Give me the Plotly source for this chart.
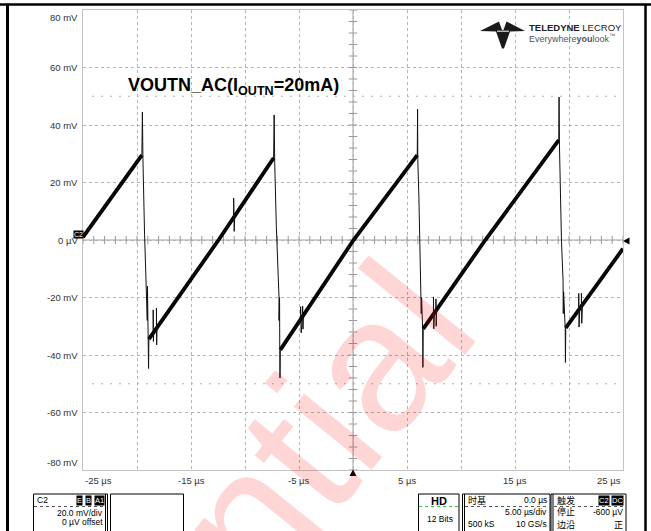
import numpy as np
import plotly.graph_objects as go

# ---------------- data (time in µs, voltage in mV) ----------------
wave_t = [-25.0, -19.55, -19.5, -19.45, -19.3, -19.05, -19.03, -19.0, -18.95, -18.93, -18.9,
          -18.5, -18.5, -18.48, -18.45, -18.2, -18.2, -18.18, -18.15,
          -11.05, -11.05, -11.0, -10.95,
          -7.35, -7.3, -7.25, -7.1, -6.85, -6.85, -6.8, -6.78, -6.76, -6.73,
          -4.85, -4.85, -4.8, -4.7, -4.66, -4.63, -4.6,
          0.05, 5.95, 5.98, 6.0, 6.1, 6.25, 6.3, 6.32, 6.35, 6.45, 6.47, 6.5,
          7.45, 7.45, 7.48, 7.55, 7.68, 7.68, 7.7, 7.75,
          12.25, 19.05, 19.08, 19.12, 19.3, 19.45, 19.47, 19.5, 19.65, 19.67, 19.7,
          20.9, 20.9, 20.93, 21.0, 21.15, 21.15, 21.18, 21.25, 25.0]
wave_v = [1.0, 29.5, 44.5, 28.0, 2.0, -28.0, -16.0, -30.0, -35.0, -44.7, -34.5,
          -32.5, -24.3, -35.3, -32.2, -30.8, -23.7, -36.5, -30.5,
          7.8, 14.6, 3.0, 8.3,
          28.5, 43.5, 27.0, 5.0, -20.0, -28.0, -20.0, -38.5, -48.0, -38.2,
          -28.0, -23.2, -32.3, -27.5, -23.0, -31.0, -26.8,
          0.0, 29.5, 45.5, 28.0, 15.0, -10.0, -15.7, -25.6, -20.0, -31.0, -44.3, -30.9,
          -26.0, -19.8, -30.9, -25.5, -24.8, -20.5, -30.0, -24.5,
          0.0, 34.7, 49.7, 32.0, 0.0, -14.0, -25.6, -18.0, -30.9, -42.6, -30.6,
          -24.2, -18.6, -30.3, -23.7, -22.8, -18.5, -29.0, -22.3, -3.0]

# thick (noisy) ramp bands
ramp_t = [-25.0, -19.55, None, -18.9, -12.45, -7.35, None, -6.73, 0.05, 5.95, None,
          6.5, 12.25, 19.05, None, 19.7, 25.0]
ramp_v = [1.0, 29.5, None, -34.5, 0.0, 28.5, None, -38.2, 0.0, 29.5, None,
          -30.9, 0.0, 34.7, None, -30.6, -3.0]

x_tick_vals = [-25, -15, -5, 5, 15, 25]
x_tick_text = ["-25 µs", "-15 µs", "-5 µs", "5 µs", "15 µs", "25 µs"]
y_tick_vals = [80, 60, 40, 20, 0, -20, -40, -60, -80]
y_tick_text = ["80 mV", "60 mV", "40 mV", "20 mV", "0 µV", "-20 mV", "-40 mV", "-60 mV", "-80 mV"]
cursor_levels = [50, -50]

title_text = "<b>VOUTN_AC(I<sub>OUTN</sub>=20mA)</b>"
watermark = "Confidential"

# ---------------- layout helpers (pixel -> paper) ----------------
W, H = 651, 531
L, R, T, B = 83, 623, 10, 470
def px(x):
    return (x - L) / (R - L)
def py(y):
    return (B - y) / (B - T)

FONT = "Liberation Sans, Arial, sans-serif"
CJK = "Noto Sans CJK SC, Liberation Sans, sans-serif"

fig = go.Figure()

# crosshair minor ticks
minor_x = np.arange(-25, 25.01, 1.0)
minor_y = np.arange(-80, 80.01, 4.0)
fig.add_trace(go.Scatter(x=minor_x, y=np.zeros_like(minor_x), mode="markers",
                         marker=dict(symbol="line-ns", size=6, line=dict(width=1, color="#9a9a9a")),
                         hoverinfo="skip", showlegend=False))
fig.add_trace(go.Scatter(x=np.zeros_like(minor_y), y=minor_y, mode="markers",
                         marker=dict(symbol="line-ew", size=6, line=dict(width=1, color="#9a9a9a")),
                         hoverinfo="skip", showlegend=False))

# waveform
fig.add_trace(go.Scatter(x=ramp_t, y=ramp_v, mode="lines", connectgaps=False,
                         line=dict(color="#000000", width=3.8), hoverinfo="skip", showlegend=False))
fig.add_trace(go.Scatter(x=wave_t, y=wave_v, mode="lines",
                         line=dict(color="#111111", width=1), hoverinfo="skip", showlegend=False))

shapes = []
# center crosshair
shapes.append(dict(type="line", xref="x", yref="paper", x0=0, x1=0, y0=0, y1=1,
                   line=dict(color="#a0a0a0", width=1), layer="below"))
shapes.append(dict(type="line", xref="paper", yref="y", x0=0, x1=1, y0=0, y1=0,
                   line=dict(color="#a0a0a0", width=1), layer="below"))
# cursor lines at +-50 mV
for lv in cursor_levels:
    shapes.append(dict(type="line", xref="paper", yref="y", x0=px(92), x1=px(618), y0=lv, y1=lv,
                       line=dict(color="#b0b0b0", width=1, dash="2px,7px"), layer="below"))

# page border
shapes.append(dict(type="line", xref="paper", yref="paper", x0=px(0), x1=px(651), y0=py(4.5), y1=py(4.5),
                   line=dict(color="black", width=2.5)))
shapes.append(dict(type="line", xref="paper", yref="paper", x0=px(7.5), x1=px(7.5), y0=py(4), y1=py(540),
                   line=dict(color="black", width=3)))
shapes.append(dict(type="line", xref="paper", yref="paper", x0=px(645.5), x1=px(645.5), y0=py(4), y1=py(540),
                   line=dict(color="black", width=2.5)))

# trigger markers
def path(pts):
    s = "M " + " L ".join(f"{px(a):.5f},{py(b):.5f}" for a, b in pts) + " Z"
    return s
shapes.append(dict(type="path", xref="paper", yref="paper",
                   path=path([(623, 241), (629.5, 237.5), (629.5, 244.5)]),
                   fillcolor="black", line=dict(width=0)))
shapes.append(dict(type="path", xref="paper", yref="paper",
                   path=path([(353, 469.5), (349.5, 476), (356.5, 476)]),
                   fillcolor="black", line=dict(width=0)))

# logo mark
shapes.append(dict(type="path", xref="paper", yref="paper",
                   path=path([(480, 31), (499, 21.5), (502, 30), (503.5, 30), (506.5, 21.5), (525, 31),
                              (510, 31.5), (504, 48.5), (502, 48.5), (496, 31.5)]),
                   fillcolor="#1a1a1a", line=dict(width=0)))
shapes.append(dict(type="line", xref="paper", yref="paper", x0=px(497), x1=px(509), y0=py(31.2), y1=py(31.2),
                   line=dict(color="white", width=1)))

# bottom info boxes
def rect(x0, y0, x1, y1, lw=1):
    shapes.append(dict(type="rect", xref="paper", yref="paper", x0=px(x0), x1=px(x1), y0=py(y0), y1=py(y1),
                       line=dict(color="black", width=lw), fillcolor="rgba(0,0,0,0)"))
def hline(x0, x1, y, color="#555", dash="dot"):
    shapes.append(dict(type="line", xref="paper", yref="paper", x0=px(x0), x1=px(x1), y0=py(y), y1=py(y),
                       line=dict(color=color, width=1, dash=dash)))
def vline(x, y0, y1):
    shapes.append(dict(type="line", xref="paper", yref="paper", x0=px(x), x1=px(x), y0=py(y0), y1=py(y1),
                       line=dict(color="black", width=1)))

rect(33.5, 494, 107.5, 545)
vline(105.5, 494, 545)
hline(34, 105, 506.5)
rect(110.5, 494, 183.5, 545)
rect(418.5, 494, 459, 545)
hline(419, 458.5, 506.5, color="#33cc33")
rect(462.5, 494, 550, 545)
vline(464.5, 494, 545)
hline(465, 549, 506.5)
rect(551, 494, 626, 545)
vline(553, 494, 545)
hline(554, 625, 506.5)

ann = []
# axis tick labels
for v, txt in zip(y_tick_vals, y_tick_text):
    ya = "middle"
    if v == max(y_tick_vals):
        ya = "top"
    elif v == min(y_tick_vals):
        ya = "bottom"
    ann.append(dict(x=0, xref="paper", y=v, yref="y", text=txt, showarrow=False,
                    xanchor="right", yanchor=ya, xshift=-3, font=dict(family=FONT, size=9.5, color="#333")))
for v, txt in zip(x_tick_vals, x_tick_text):
    xa = "center"
    if v == min(x_tick_vals):
        xa = "left"
    elif v == max(x_tick_vals):
        xa = "right"
    ann.append(dict(x=v, xref="x", y=0, yref="paper", text=txt, showarrow=False,
                    xanchor=xa, yanchor="top", yshift=-3, font=dict(family=FONT, size=9.5, color="#333")))

# channel marker
ann.append(dict(x=px(78), xref="paper", y=py(235), yref="paper", text="C2", showarrow=False,
                xanchor="center", yanchor="middle", bgcolor="black", borderpad=0,
                font=dict(family=FONT, size=7, color="white")))

# title
ann.append(dict(x=px(126), xref="paper", y=py(86), yref="paper", text=title_text, showarrow=False,
                xanchor="left", yanchor="middle", font=dict(family=FONT, size=18, color="black")))

# logo text
ann.append(dict(x=px(527), xref="paper", y=py(27.5), yref="paper", text="<b>TELEDYNE</b> LECROY",
                showarrow=False, xanchor="left", yanchor="middle",
                font=dict(family=FONT, size=9.5, color="#222")))
ann.append(dict(x=px(527), xref="paper", y=py(38), yref="paper", text="Everywhere<b>you</b>look<sup>™</sup>",
                showarrow=False, xanchor="left", yanchor="middle",
                font=dict(family=FONT, size=9, color="#555")))

def txt(x, y, s, anchor="left", size=8.5, family=FONT, color="black", bg=None):
    d = dict(x=px(x), xref="paper", y=py(y), yref="paper", text=s, showarrow=False,
             xanchor=anchor, yanchor="middle", font=dict(family=family, size=size, color=color))
    if bg:
        d["bgcolor"] = bg
        d["borderpad"] = 0
    ann.append(d)

# box 1
txt(35, 500, "C2")
txt(79.5, 500, "E", anchor="center", size=7.5, color="white", bg="black")
txt(88, 500, "B", anchor="center", size=7.5, color="white", bg="black")
txt(99.5, 500, "A1", anchor="center", size=7.5, color="white", bg="black")
txt(104.5, 512.5, "20.0 mV/div", anchor="right")
txt(104.5, 522, "0 µV offset", anchor="right")
# HD box
txt(438.5, 500.5, "<b>HD</b>", anchor="center", size=11)
txt(440, 519, "12 Bits", anchor="center", size=8.5)
# timebase box
txt(466, 500, "时基", family=CJK, size=9)
txt(548.5, 500, "0.0 µs", anchor="right")
txt(548.5, 512, "5.00 µs/div", anchor="right")
txt(466, 524, "500 kS")
txt(548.5, 524, "10 GS/s", anchor="right")
# trigger box
txt(555, 500, "触发", family=CJK, size=9)
txt(603.5, 500, "C2", anchor="center", size=7.5, color="white", bg="black")
txt(617.5, 500, "DC", anchor="center", size=7.5, color="white", bg="black")
txt(555, 512, "停止", family=CJK, size=9)
txt(624.5, 512, "-600 µV", anchor="right")
txt(555, 524, "边沿", family=CJK, size=9)
txt(624.5, 524, "正", anchor="right", family=CJK, size=9)

# watermark
ann.append(dict(x=px(116), xref="paper", y=py(681), yref="paper", text=watermark, showarrow=False,
                xanchor="center", yanchor="middle", textangle=-51,
                font=dict(family=FONT, size=190, color="rgba(255,0,0,0.16)")))

fig.update_layout(
    width=W, height=H,
    margin=dict(l=L, r=W - R, t=T, b=H - B, pad=0),
    paper_bgcolor="white", plot_bgcolor="white",
    showlegend=False,
    shapes=shapes, annotations=ann,
    font=dict(family=FONT),
    xaxis=dict(range=[-25, 25], dtick=5, tick0=0, showticklabels=False, ticks="",
               showgrid=True, gridcolor="#b4b4b4", griddash="dot", gridwidth=1,
               zeroline=False, showline=True, mirror=True, linecolor="#c4c4c4", linewidth=1,
               fixedrange=True),
    yaxis=dict(range=[-80, 80], dtick=20, tick0=0, showticklabels=False, ticks="",
               showgrid=True, gridcolor="#b4b4b4", griddash="dot", gridwidth=1,
               zeroline=False, showline=True, mirror=True, linecolor="#c4c4c4", linewidth=1,
               fixedrange=True),
)

fig.write_html("out.html", include_plotlyjs=True, config={"displayModeBar": False},
               post_script="document.body.style.margin='0';document.body.style.padding='0';"
                           "document.body.style.overflow='hidden';")
